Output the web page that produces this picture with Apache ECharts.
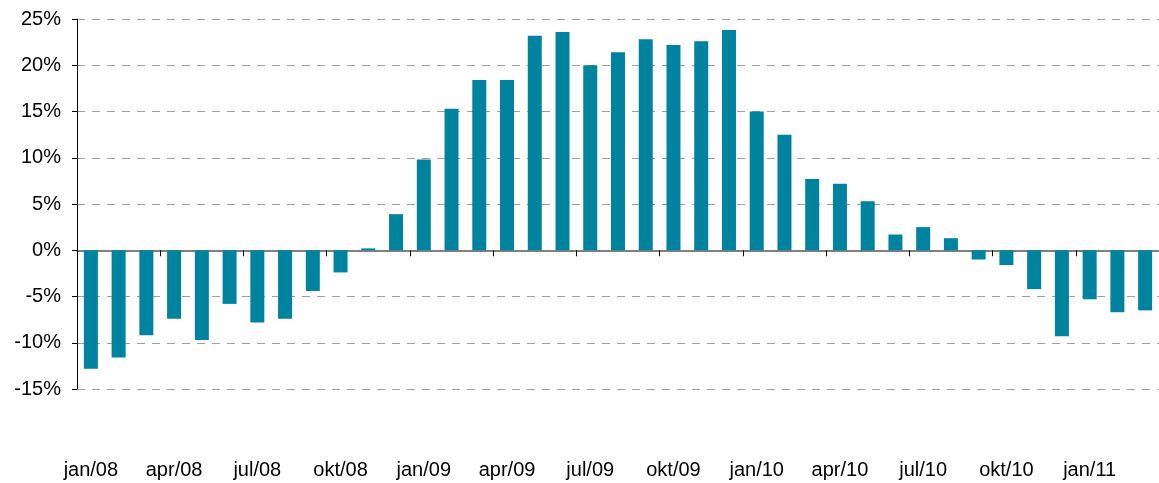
<!DOCTYPE html>
<html>
<head>
<meta charset="utf-8">
<script src="https://cdn.jsdelivr.net/npm/echarts@6/dist/echarts.min.js"></script>
<style>
  html, body { margin: 0; padding: 0; background: #fff; }
  #chart { width: 1159px; height: 483px; }
</style>
</head>
<body>
<div id="chart"></div>
<script>
// months jan/08 .. mar/11
const months = [
    'jan/08', 'feb/08', 'mar/08', 'apr/08', 'mai/08', 'jun/08', 'jul/08', 'aug/08', 'sep/08', 'okt/08', 'nov/08', 'des/08',
    'jan/09', 'feb/09', 'mar/09', 'apr/09', 'mai/09', 'jun/09', 'jul/09', 'aug/09', 'sep/09', 'okt/09', 'nov/09', 'des/09',
    'jan/10', 'feb/10', 'mar/10', 'apr/10', 'mai/10', 'jun/10', 'jul/10', 'aug/10', 'sep/10', 'okt/10', 'nov/10', 'des/10',
    'jan/11', 'feb/11', 'mar/11'
];
// percent change
const values = [
    -12.8, -11.6, -9.2, -7.4, -9.7, -5.8, -7.8, -7.4, -4.4, -2.4, 0.2, 3.9,
    9.8, 15.3, 18.4, 18.4, 23.2, 23.6, 20.0, 21.4, 22.8, 22.2, 22.6, 23.8,
    15.0, 12.5, 7.7, 7.2, 5.3, 1.7, 2.5, 1.3, -1.0, -1.6, -4.2, -9.3,
    -5.3, -6.7, -6.5
];
const yTicks = { min: -15, max: 25, step: 5 };

var myChart = echarts.init(document.getElementById('chart'));
var font = 'Liberation Sans, Arial, sans-serif';
var option = {
    animation: false,
    grid: { left: 77, right: 0, top: 19, bottom: 94, containLabel: false },
    xAxis: [
        {
            // zero line with tick marks
            type: 'category',
            data: months,
            boundaryGap: true,
            axisLine: { onZero: true, lineStyle: { color: '#808080', width: 2 } },
            axisTick: { show: true, interval: 2, length: 6, lineStyle: { color: '#000', width: 1 } },
            axisLabel: { show: false, interval: 2 },
            splitLine: { show: false }
        },
        {
            // labels at bottom
            type: 'category',
            data: months,
            position: 'bottom',
            offset: 0,
            boundaryGap: true,
            axisLine: { show: false, onZero: false },
            axisTick: { show: false },
            axisLabel: { interval: 2, margin: 71, color: '#000', fontSize: 20, fontFamily: font },
            splitLine: { show: false }
        }
    ],
    yAxis: {
        type: 'value',
        min: yTicks.min,
        max: yTicks.max,
        interval: yTicks.step,
        axisLine: { show: true, lineStyle: { color: '#000', width: 1 } },
        axisTick: { show: true, length: 5, lineStyle: { color: '#000' } },
        axisLabel: {
            margin: 16,
            color: '#000',
            fontSize: 20,
            fontFamily: font,
            formatter: function (v) { return v + '%'; }
        },
        splitLine: { show: true, lineStyle: { color: '#a0a0a0', type: [8, 7], width: 1 } }
    },
    series: [
        {
            type: 'bar',
            xAxisIndex: 0,
            data: values,
            barWidth: 14,
            itemStyle: { color: '#00839F' }
        }
    ]
};
myChart.setOption(option);
</script>
</body>
</html>
